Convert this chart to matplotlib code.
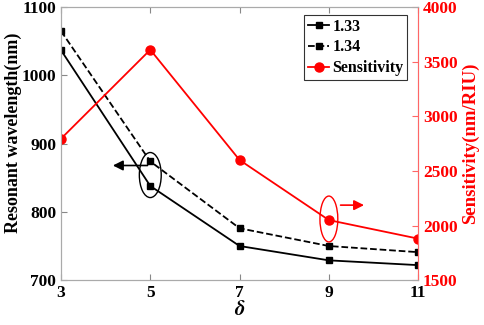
import matplotlib
matplotlib.use("Agg")
import matplotlib.pyplot as plt
from matplotlib.patches import Ellipse

delta = [3, 5, 7, 9, 11]
wl_133 = [1037, 838, 750, 729, 722]
wl_134 = [1065, 874, 776, 750, 741]
sensitivity = [2795, 3610, 2600, 2050, 1880]

RED = "#FF0000"
plt.rcParams["font.family"] = ["Liberation Serif", "DejaVu Serif"]
plt.rcParams["font.weight"] = "bold"
plt.rcParams["mathtext.fontset"] = "stix"

fig = plt.figure(figsize=(4.84, 3.25), dpi=100)
ax = fig.add_axes([0.126, 0.138, 0.738, 0.84])
ax2 = ax.twinx()

l1, = ax.plot(delta, wl_133, "-s", color="black", lw=1.3, ms=4.5, label="1.33")
l2, = ax.plot(delta, wl_134, "--s", color="black", lw=1.3, ms=4.5, label="1.34")
l3, = ax2.plot(delta, sensitivity, "-o", color=RED, lw=1.3, ms=6.5, label="Sensitivity")

ax.set_xlim(3, 11)
ax.set_ylim(700, 1100)
ax.set_xticks(delta)
ax.set_yticks([700, 800, 900, 1000, 1100])
ax2.set_ylim(1500, 4000)
ax2.set_yticks([1500, 2000, 2500, 3000, 3500, 4000])

ax.set_xlabel("$\\delta$", fontsize=15, labelpad=0)
ax.set_ylabel("Resonant wavelength(nm)", fontsize=13, fontweight="bold")
ax.yaxis.set_label_coords(-0.108, 0.54)
ax2.set_ylabel("Sensitivity(nm/RIU)", fontsize=13.5, fontweight="bold", color=RED, labelpad=3)

for a in (ax, ax2):
    for s in a.spines.values():
        s.set_color("#AAAAAA")
ax2.spines["right"].set_color("#FF6666")
ax.tick_params(direction="in", labelsize=12.5, top=True, length=4, color="#888888")
ax2.tick_params(direction="in", labelsize=12.5, length=4, color="#FF6666", labelcolor=RED)
for lab in ax.get_xticklabels() + ax.get_yticklabels() + ax2.get_yticklabels():
    lab.set_fontweight("bold")

leg = ax.legend(handles=[l1, l2, l3], loc="upper right", bbox_to_anchor=(0.983, 0.99),
                fontsize=11.5, frameon=True, fancybox=False, handlelength=1.3,
                handletextpad=0.2, borderpad=0.25, labelspacing=0.3, borderaxespad=0.3)
leg.get_frame().set_edgecolor("black")
leg.get_frame().set_linewidth(0.8)
for t in leg.get_texts():
    t.set_fontweight("bold")

# annotation ellipses and arrows
ax.add_patch(Ellipse((5, 854), 0.49, 66, fill=False, ec="black", lw=1))
ax.annotate("", xy=(4.1, 868), xytext=(5.0, 868),
            arrowprops=dict(arrowstyle="-|>", color="black", lw=1.2, mutation_scale=15))
ax2.add_patch(Ellipse((9, 2060), 0.4, 420, fill=False, ec=RED, lw=1))
ax2.annotate("", xy=(9.85, 2187), xytext=(9.2, 2187),
             arrowprops=dict(arrowstyle="-|>", color=RED, lw=1.2, mutation_scale=15))

fig.savefig("out.png", dpi=100)
